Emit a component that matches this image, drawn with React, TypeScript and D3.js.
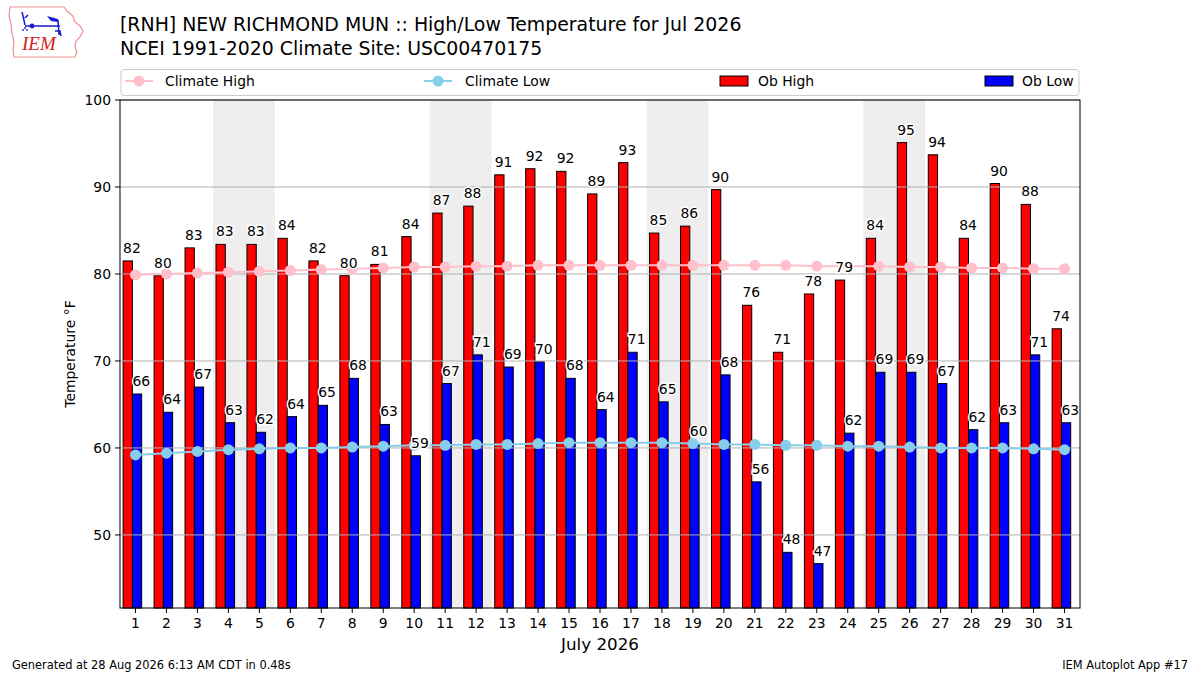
import React from 'react';
import * as d3 from 'd3';

// July 2026 observations and NCEI 1991-2020 climatology, °F
const days = d3.range(1, 32);
const obHigh = [81.5, 79.8, 83.0, 83.4, 83.4, 84.1, 81.5, 79.8, 81.1, 84.3, 87.0, 87.8, 91.4, 92.1, 91.8, 89.2, 92.8, 84.7, 85.5, 89.7, 76.4, 71.0, 77.7, 79.3, 84.1, 95.1, 93.7, 84.1, 90.4, 88.0, 73.7];
const obLow = [66.2, 64.1, 67.0, 62.9, 61.8, 63.6, 64.9, 68.0, 62.7, 59.1, 67.4, 70.7, 69.3, 69.9, 68.0, 64.4, 71.0, 65.3, 60.4, 68.4, 56.1, 48.0, 46.7, 61.7, 68.7, 68.7, 67.4, 62.1, 62.9, 70.7, 62.9];
const climHigh = [79.9, 80.0, 80.1, 80.2, 80.3, 80.4, 80.5, 80.6, 80.7, 80.8, 80.8, 80.9, 80.9, 81.0, 81.0, 81.0, 81.0, 81.0, 81.0, 81.0, 81.0, 81.0, 80.9, 80.9, 80.9, 80.8, 80.8, 80.7, 80.7, 80.6, 80.6];
const climLow = [59.2, 59.4, 59.6, 59.8, 59.9, 60.0, 60.0, 60.1, 60.2, 60.3, 60.3, 60.4, 60.4, 60.5, 60.6, 60.6, 60.6, 60.6, 60.5, 60.4, 60.4, 60.3, 60.3, 60.2, 60.2, 60.1, 60.0, 60.0, 60.0, 59.9, 59.8];
const saturdays = [4, 11, 18, 25];
const yTicks = [50, 60, 70, 80, 90, 100];

const FONT = 'DejaVu Sans, sans-serif';

const margin = { left: 120, right: 1080, top: 100, bottom: 608 };

const App: React.FC = () => {
  const x = d3.scaleLinear().domain([0.5, 31.5]).range([margin.left, margin.right]);
  const y = d3.scaleLinear().domain([41.6, 100]).range([margin.bottom, margin.top]);
  const bw = x(0.3) - x(0);

  const line = d3.line<number>()
    .x((_, i) => x(days[i]))
    .y(d => y(d));

  const label = (v: number, xl: number, key: string) => (
    <text key={key} x={xl} y={y(v) - 8} fontSize={13.9} fontFamily={FONT}
      stroke="white" strokeWidth={3} paintOrder="stroke" fill="black">
      {Math.round(v)}
    </text>
  );

  return (
    <svg width={1200} height={675} style={{ position: 'absolute', left: 0, top: 0, background: 'white' }}>
      {/* logo */}
      <g>
        <path d="M10,7 L64,7 L67,11 L73,16 L75,22 L80,26 L83,31 L80,37 L76,41 L75,47 L77,52 L75,57 L14,57 L13,50 L14,42 L12,33 L11,24 L9,16 Z"
          fill="none" stroke="#ef8f8f" strokeWidth={1.2} />
        <path d="M22,12 L23,16 L25,25 M25,18 L28,15 M25,26 L60,26 M58,20 L59,35 M55,31 L60,31 L61,36"
          fill="none" stroke="#1a1ad0" strokeWidth={1.5} />
        <circle cx={32} cy={26} r={2.4} fill="#1a1ad0" />
        <path d="M47,16 L58,19 L58,22 L51,21 Z" fill="#1a1ad0" />
        <circle cx={25} cy={28} r={0.9} fill="#1a1ad0" />
        <circle cx={23} cy={30} r={0.9} fill="#1a1ad0" />
        <circle cx={27} cy={30} r={0.9} fill="#1a1ad0" />
        <text x={22} y={50} fontSize={19} fontStyle="italic" fontFamily="Liberation Serif, serif" fill="#d42020">IEM</text>
      </g>

      {/* titles */}
      <text x={120} y={31} fontSize={18.9} fontFamily={FONT}>[RNH] NEW RICHMOND MUN :: High/Low Temperature for Jul 2026</text>
      <text x={120} y={55} fontSize={18.9} fontFamily={FONT}>NCEI 1991-2020 Climate Site: USC00470175</text>

      {/* weekend shading */}
      {saturdays.map(d => (
        <rect key={`we${d}`} x={x(d - 0.5)} y={margin.top} width={x(d + 1.5) - x(d - 0.5)}
          height={margin.bottom - margin.top} fill="#eeeeee" />
      ))}

      {/* bars */}
      {days.map((d, i) => (
        <g key={`b${d}`}>
          <rect x={x(d - 0.4)} y={y(obHigh[i])} width={bw} height={margin.bottom - y(obHigh[i])}
            fill="#ff0000" stroke="black" strokeWidth={1} />
          <rect x={x(d - 0.1)} y={y(obLow[i])} width={bw} height={margin.bottom - y(obLow[i])}
            fill="#0000ff" stroke="black" strokeWidth={1} />
        </g>
      ))}

      {/* grid */}
      {yTicks.map(t => (
        <line key={`g${t}`} x1={margin.left} x2={margin.right} y1={y(t)} y2={y(t)} stroke="#b0b0b0" strokeWidth={1} />
      ))}

      {/* climate lines */}
      <path d={line(climHigh) || ''} fill="none" stroke="pink" strokeWidth={2} />
      {climHigh.map((v, i) => <circle key={`ch${i}`} cx={x(days[i])} cy={y(v)} r={5.5} fill="pink" />)}
      <path d={line(climLow) || ''} fill="none" stroke="skyblue" strokeWidth={2} />
      {climLow.map((v, i) => <circle key={`cl${i}`} cx={x(days[i])} cy={y(v)} r={5.5} fill="skyblue" />)}

      {/* bar labels */}
      {days.map((d, i) => label(obHigh[i], x(d - 0.4), `lh${d}`))}
      {days.map((d, i) => label(obLow[i], x(d - 0.1), `ll${d}`))}

      {/* axes frame */}
      <rect x={margin.left} y={margin.top} width={margin.right - margin.left} height={margin.bottom - margin.top}
        fill="none" stroke="black" strokeWidth={1} />

      {/* y axis */}
      {yTicks.map(t => (
        <g key={`yt${t}`}>
          <line x1={margin.left - 5} x2={margin.left} y1={y(t)} y2={y(t)} stroke="black" />
          <text x={margin.left - 9} y={y(t)} dy="0.35em" textAnchor="end" fontSize={13.9} fontFamily={FONT}>{t}</text>
        </g>
      ))}
      <text transform={`translate(75,${(margin.top + margin.bottom) / 2}) rotate(-90)`} textAnchor="middle"
        fontSize={13.9} fontFamily={FONT}>Temperature °F</text>

      {/* x axis */}
      {days.map(d => (
        <g key={`xt${d}`}>
          <line x1={x(d)} x2={x(d)} y1={margin.bottom} y2={margin.bottom + 5} stroke="black" />
          <text x={x(d)} y={628} textAnchor="middle" fontSize={13.9} fontFamily={FONT}>{d}</text>
        </g>
      ))}
      <text x={(margin.left + margin.right) / 2} y={650} textAnchor="middle" fontSize={16.7} fontFamily={FONT}>July 2026</text>

      {/* legend */}
      <g fontFamily={FONT} fontSize={13.9}>
        <rect x={121} y={69.5} width={958} height={26} rx={3} fill="white" fillOpacity={0.8} stroke="#cccccc" />
        <line x1={125} x2={153} y1={81} y2={81} stroke="pink" strokeWidth={2} />
        <circle cx={139} cy={81} r={5.5} fill="pink" />
        <text x={165} y={81} dy="0.35em">Climate High</text>
        <line x1={424} x2={452} y1={81} y2={81} stroke="skyblue" strokeWidth={2} />
        <circle cx={438} cy={81} r={5.5} fill="skyblue" />
        <text x={465} y={81} dy="0.35em">Climate Low</text>
        <rect x={720} y={76} width={28} height={10} fill="#ff0000" stroke="black" />
        <text x={758} y={81} dy="0.35em">Ob High</text>
        <rect x={985} y={76} width={28} height={10} fill="#0000ff" stroke="black" />
        <text x={1022} y={81} dy="0.35em">Ob Low</text>
      </g>

      {/* footer */}
      <text x={12} y={669} fontSize={11.4} fontFamily={FONT}>Generated at 28 Aug 2026 6:13 AM CDT in 0.48s</text>
      <text x={1188} y={669} textAnchor="end" fontSize={11.4} fontFamily={FONT}>IEM Autoplot App #17</text>
    </svg>
  );
};

export default App;
